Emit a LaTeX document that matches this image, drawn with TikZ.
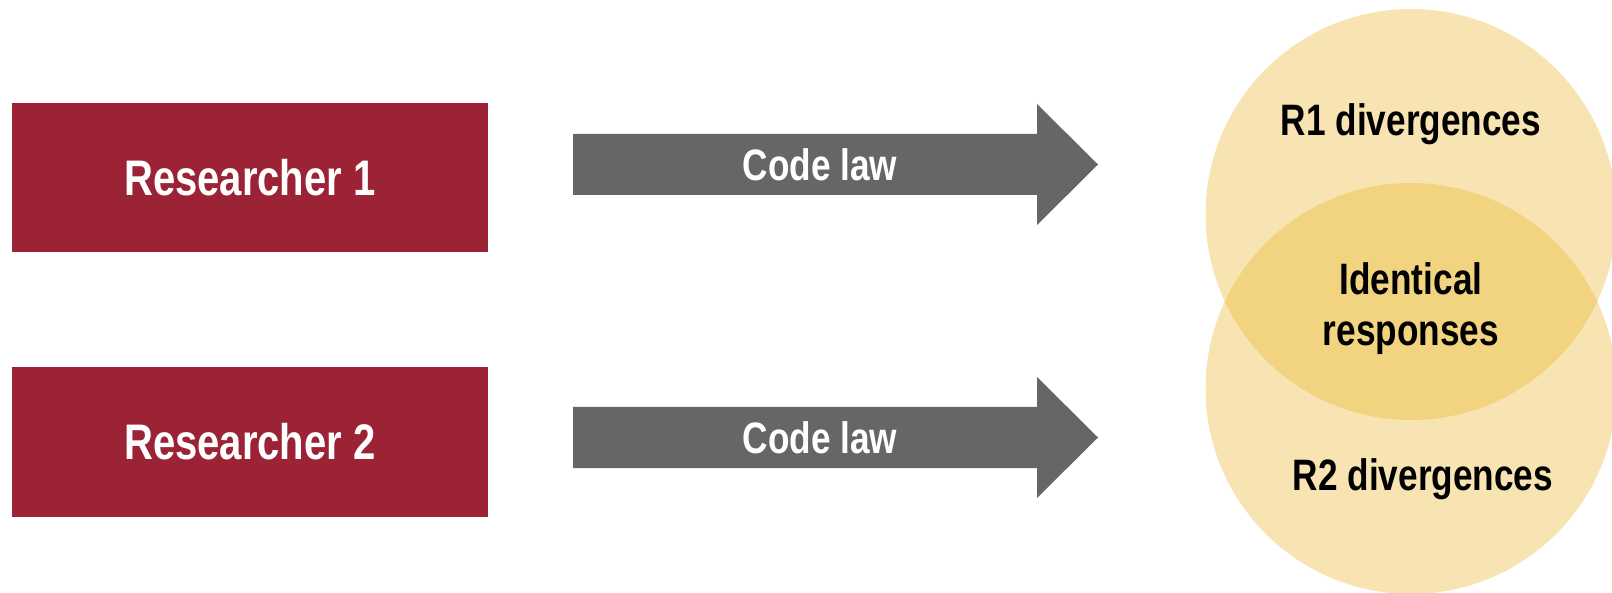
\documentclass[tikz,border=0pt]{standalone}
\usepackage{fontspec}
\setmainfont[FakeStretch=0.8]{Liberation Sans}
\definecolor{boxred}{HTML}{9B2335}
\definecolor{arrowgray}{HTML}{666666}
\definecolor{venn}{HTML}{F8E4B3}
\definecolor{vennmid}{HTML}{F2D380}
\tikzset{
  researcher/.style={fill=boxred, minimum width=476pt, minimum height=149pt,
    inner sep=0pt, text=white, font=\bfseries\fontsize{50}{60}\selectfont},
  arrowlabel/.style={text=white, inner sep=0pt, font=\bfseries\fontsize{44}{52}\selectfont},
  venntext/.style={text=black, inner sep=0pt, align=center,
    font=\bfseries\fontsize{44}{51}\selectfont},
  vennset/.style={circle, fill=venn, minimum size=411pt, inner sep=0pt},
  codearrow/.pic={
    \fill[arrowgray] (0,-30.5) -- (464,-30.5) -- (464,-60.5) -- (525,0)
      -- (464,60.5) -- (464,30.5) -- (0,30.5) -- cycle;
  },
}
\begin{document}
\begin{tikzpicture}[x=1pt,y=-1pt]
  \useasboundingbox (0,0) rectangle (1612,593);
  % researchers
  \node[researcher] (r1) at (250,177.5) {Researcher 1};
  \node[researcher] (r2) at (250,442) {Researcher 2};
  % coding arrows
  \pic at (573,164.5) {codearrow};
  \pic at (573,437.5) {codearrow};
  \node[arrowlabel] (law1) at (820,164.5) {Code law};
  \node[arrowlabel] (law2) at (820,437.5) {Code law};
  % Venn diagram of responses
  \node[vennset] (s1) at (1411,214.5) {};
  \node[vennset] (s2) at (1411,388.5) {};
  \begin{scope}
    \clip (s1.center) circle (205.5pt);
    \fill[vennmid] (s2.center) circle (205.5pt);
  \end{scope}
  \node[venntext] (d1) at (1411,124) {R1 divergences};
  \node[venntext] (same) at (1411,309) {Identical\\responses};
  \node[venntext] (d2) at (1423,479) {R2 divergences};
\end{tikzpicture}
\end{document}
